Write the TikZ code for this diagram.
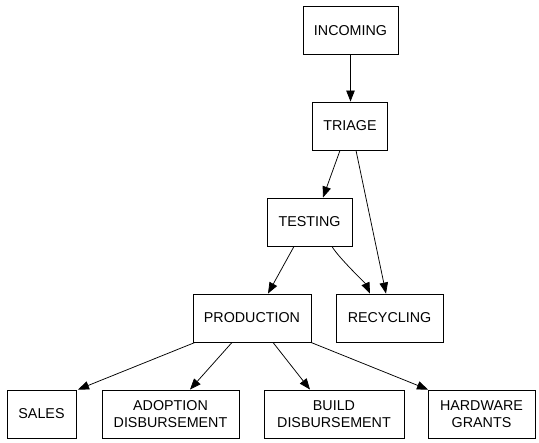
\documentclass[tikz,border=0pt]{standalone}
\usepackage{fontspec}
\setmainfont{Liberation Sans}
\usepackage{tikz}
\usepackage{xcolor}
\usetikzlibrary{arrows.meta,positioning,calc}
\definecolor{ink}{HTML}{000000}
\tikzset{
  stagebox/.style={
    draw=ink, fill=white, line width=0.9pt, rectangle,
    minimum height=48pt, inner sep=2pt, align=center,
    font=\fontsize{14.3}{17.3}\selectfont
  },
  flow/.style={
    draw=ink, line width=0.75pt,
    -{Triangle[length=11pt,width=8.5pt]}
  }
}
\begin{document}
\begin{tikzpicture}[x=1pt,y=1pt]
  \useasboundingbox (0,0) rectangle (539,-443);
  % stages
  \node[stagebox,minimum width=95pt]  (incoming)   at (350.5,-30.5) {INCOMING};
  \node[stagebox,minimum width=75pt]  (triage)     at (350,-126)    {TRIAGE};
  \node[stagebox,minimum width=85pt]  (testing)    at (309.5,-222)  {TESTING};
  \node[stagebox,minimum width=118pt] (production) at (252,-318)    {PRODUCTION};
  \node[stagebox,minimum width=107pt] (recycling)  at (389.5,-318)  {RECYCLING};
  \node[stagebox,minimum width=69pt]  (sales)      at (41.5,-414)   {SALES};
  \node[stagebox,minimum width=137pt] (adoption)   at (170.5,-414)  {ADOPTION\\DISBURSEMENT};
  \node[stagebox,minimum width=140pt] (build)      at (334,-414)    {BUILD\\DISBURSEMENT};
  \node[stagebox,minimum width=107pt] (hardware)   at (481.5,-414)  {HARDWARE\\GRANTS};
  % flows
  \draw[flow] (incoming.south) -- (incoming.south |- triage.north);
  \draw[flow] ($(triage.south)+(-10,0)$) -- ($(testing.north)+(13.5,0)$);
  \draw[flow] ($(triage.south)+(6,0)$) -- ($(recycling.north)+(-3.5,0)$);
  \draw[flow] ($(testing.south)+(-15.5,0)$) -- ($(production.north)+(16,0)$);
  \draw[flow] ($(testing.south)+(22.5,0)$) .. controls ($(testing.south)+(28,-10)$) and ($(recycling.north)+(-24,10)$) .. ($(recycling.north)+(-19.5,0)$);
  \draw[flow] ($(production.south)+(-57,0)$) -- ($(sales.north)+(36.5,0)$);
  \draw[flow] ($(production.south)+(-20,0)$) -- ($(adoption.north)+(19.5,0)$);
  \draw[flow] ($(production.south)+(21,0)$) -- ($(build.north)+(-24,0)$);
  \draw[flow] ($(production.south)+(59,0)$) -- ($(hardware.north)+(-53.5,0)$);
\end{tikzpicture}
\end{document}
